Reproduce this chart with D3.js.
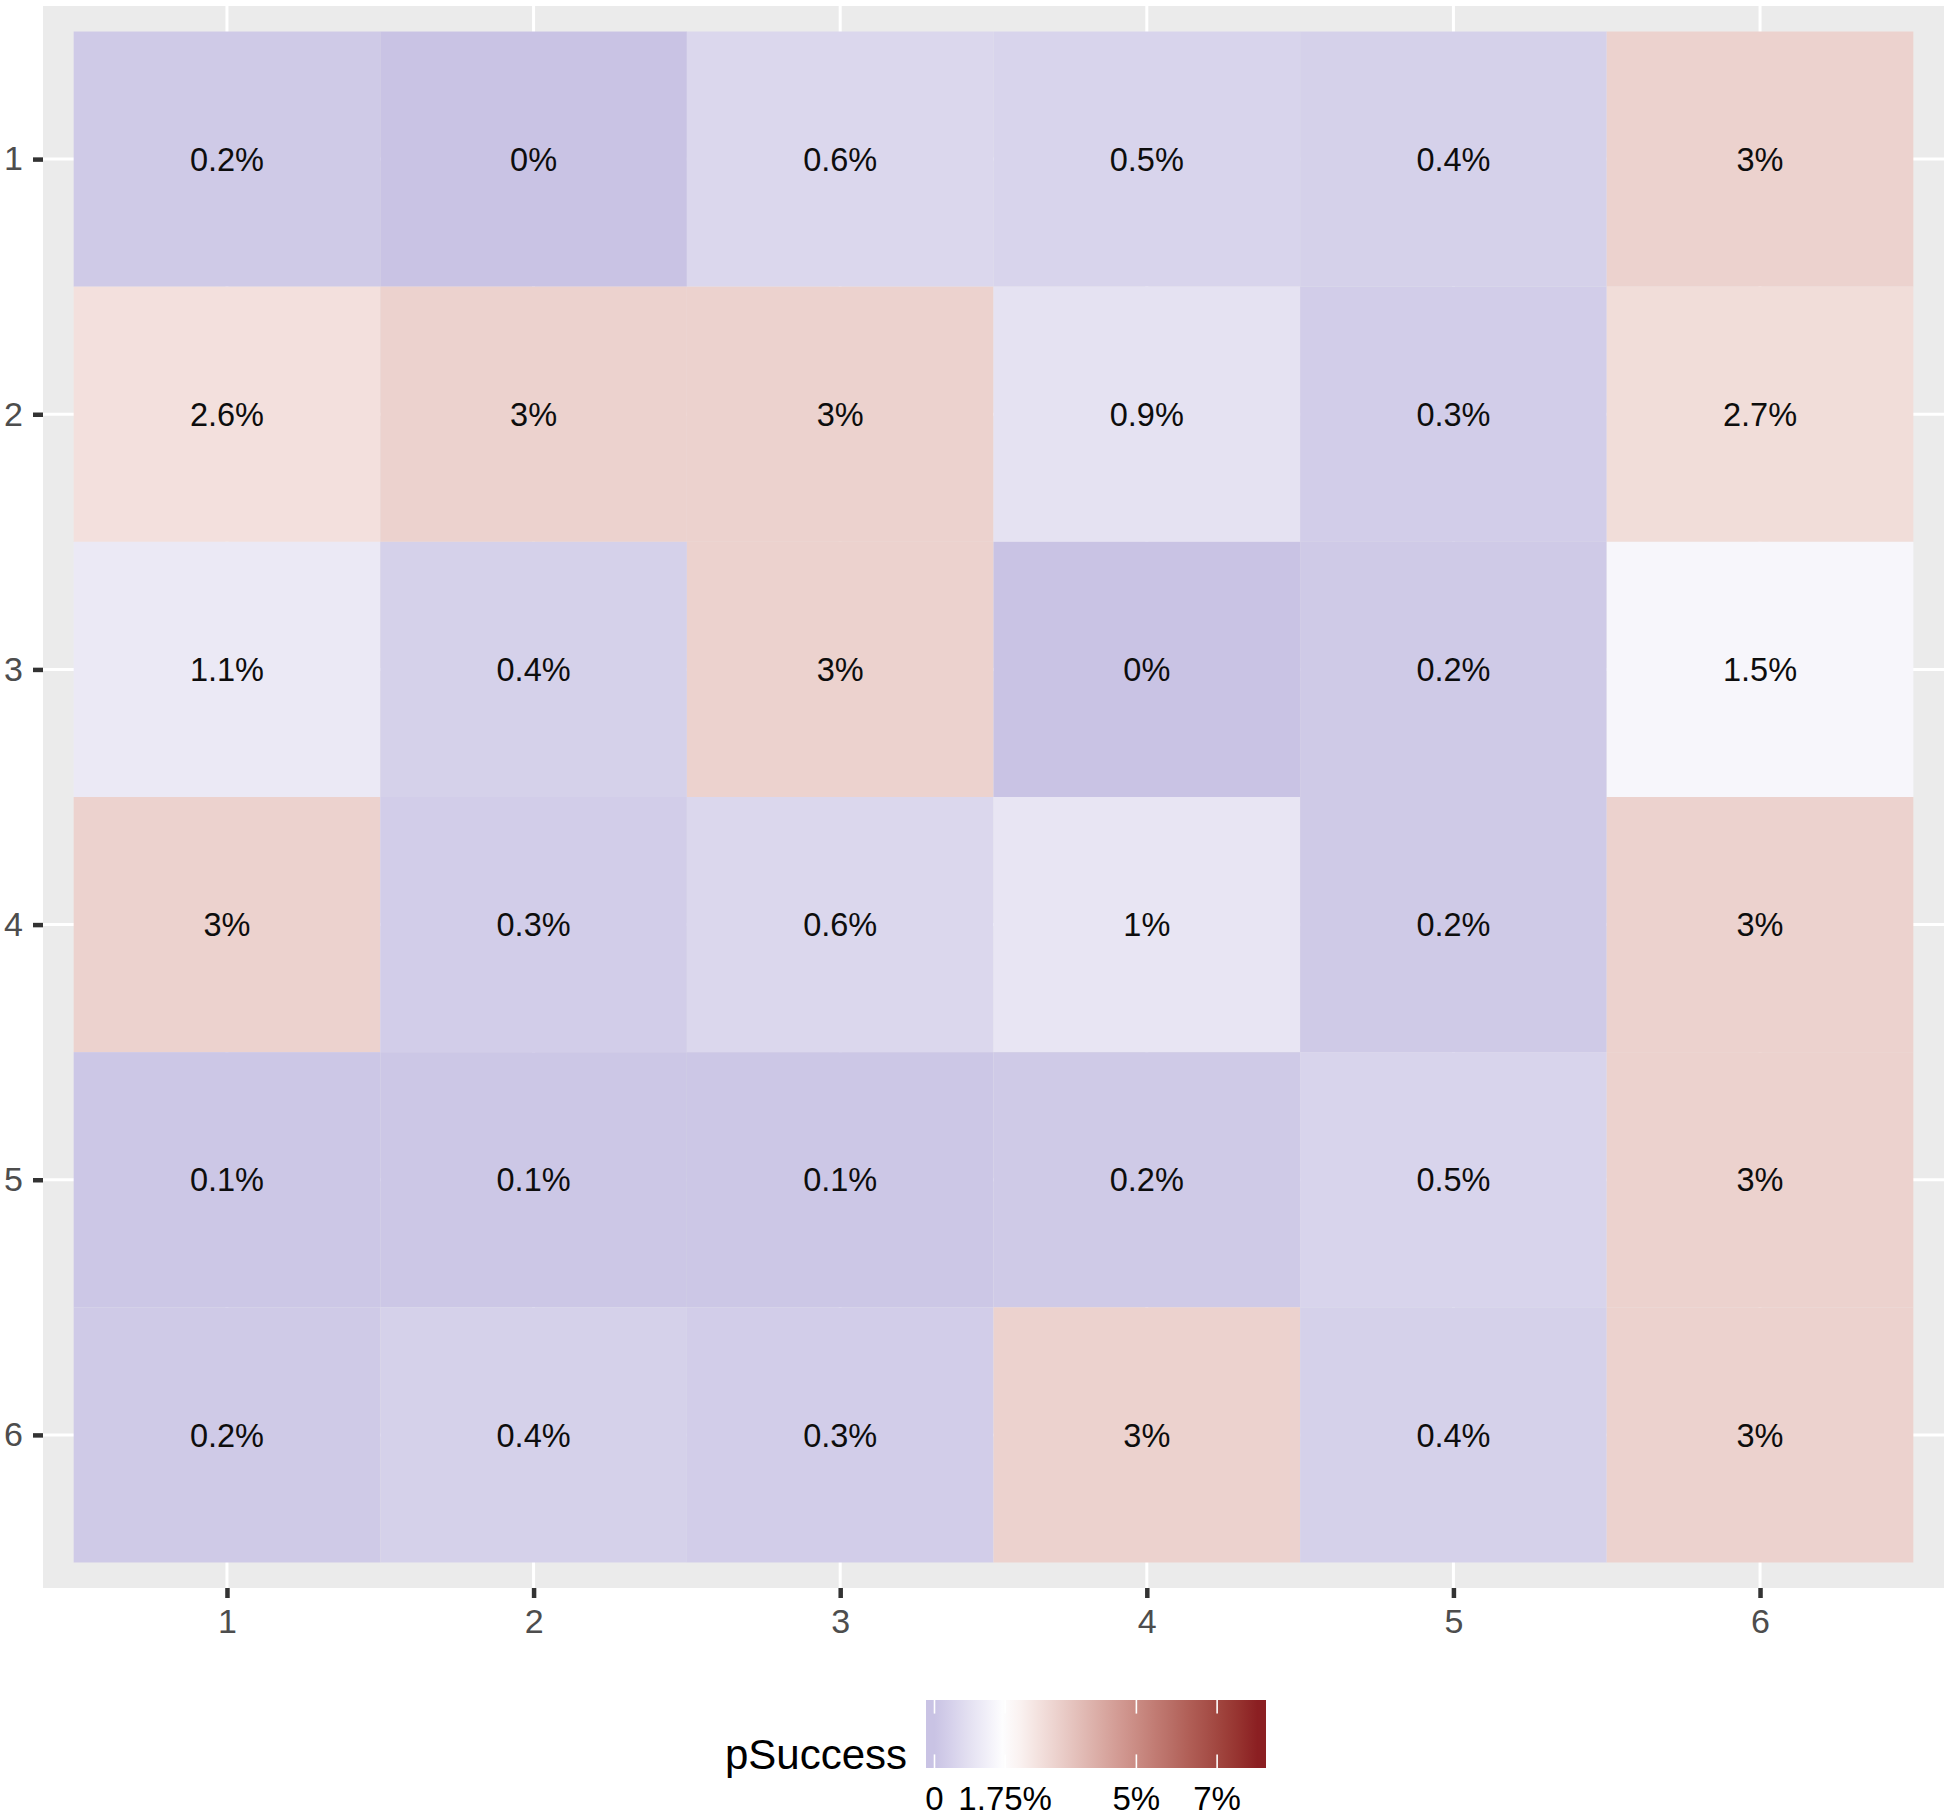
<!DOCTYPE html>
<html>
<head>
<meta charset="utf-8">
<script src="https://cdn.jsdelivr.net/npm/d3@7"></script>
<style>
  html, body { margin: 0; padding: 0; background: #ffffff; }
  svg { display: block; font-family: "Liberation Sans", Arial, Helvetica, sans-serif; }
</style>
</head>
<body>
<svg id="chart" width="1946" height="1816"></svg>
<script>
// ---- data ----
const cols = [1, 2, 3, 4, 5, 6];
const rows = [1, 2, 3, 4, 5, 6];
// pSuccess in %, one array per row (row 1 at top)
const row1 = [0.2, 0, 0.6, 0.5, 0.4, 3];
const row2 = [2.6, 3, 3, 0.9, 0.3, 2.7];
const row3 = [1.1, 0.4, 3, 0, 0.2, 1.5];
const row4 = [3, 0.3, 0.6, 1, 0.2, 3];
const row5 = [0.1, 0.1, 0.1, 0.2, 0.5, 3];
const row6 = [0.2, 0.4, 0.3, 3, 0.4, 3];
const rowValues = [row1, row2, row3, row4, row5, row6];
const legendTicks = [0, 0.0175, 0.05, 0.07];
const legendTickLabels = ["0", "1.75%", "5%", "7%"];
const fillLimits = [0, 0.08];
const fillMid = 0.0175;
const legendTitle = "pSuccess";

const cells = [];
rows.forEach((r, i) => cols.forEach((c, j) => cells.push({ row: r, col: c, v: rowValues[i][j] / 100 })));

// ---- scales ----
const svg = d3.select("#chart");
const x = d3.scaleLinear().domain([0.4, 6.6]).range([43, 1944]);
const y = d3.scaleLinear().domain([0.4, 6.6]).range([6, 1588]);

const lowCol = d3.lab(29, 24, -56).formatHex(), midCol = "#ffffff", highCol = "#8B1F22";
const grad = d3.scaleLinear().domain([0, 0.5, 1]).range([lowCol, midCol, highCol])
  .interpolate(d3.interpolateLab).clamp(true);
const maxDist = Math.max(Math.abs(fillLimits[0] - fillMid), Math.abs(fillLimits[1] - fillMid));
const fill = v => grad((v - fillMid) / maxDist / 2 + 0.5);

// ---- panel ----
svg.append("rect").attr("x", x(0.4)).attr("y", y(0.4))
  .attr("width", x(6.6) - x(0.4)).attr("height", y(6.6) - y(0.4)).attr("fill", "#ebebeb");

const grid = svg.append("g");
grid.selectAll("line.v").data(cols).join("line")
  .attr("x1", d => x(d)).attr("x2", d => x(d)).attr("y1", y(0.4)).attr("y2", y(6.6))
  .attr("stroke", "#fff").attr("stroke-width", 3);
grid.selectAll("line.h").data(rows).join("line")
  .attr("y1", d => y(d)).attr("y2", d => y(d)).attr("x1", x(0.4)).attr("x2", x(6.6))
  .attr("stroke", "#fff").attr("stroke-width", 3);

// ---- tiles ----
svg.append("g").selectAll("rect").data(cells).join("rect")
  .attr("x", d => x(d.col - 0.5)).attr("y", d => y(d.row - 0.5))
  .attr("width", x(1.5) - x(0.5)).attr("height", y(1.5) - y(0.5))
  .attr("fill", d => fill(d.v));

const fmt = v => `${+(v * 100).toFixed(1)}%`;
svg.append("g").selectAll("text").data(cells).join("text")
  .attr("x", d => x(d.col)).attr("y", d => y(d.row))
  .attr("dy", "0.36em").attr("text-anchor", "middle")
  .attr("font-size", 32.5).attr("fill", "#0d0d0d")
  .text(d => fmt(d.v));

// ---- axes ----
const styleAxis = g => {
  g.select(".domain").remove();
  g.selectAll(".tick line").attr("stroke", "#333").attr("stroke-width", 4.5);
  g.selectAll(".tick text").attr("fill", "#4d4d4d").attr("font-size", 34)
    .attr("font-family", "Liberation Sans, Arial, sans-serif");
};
svg.append("g").attr("transform", `translate(0,${y(6.6)})`)
  .call(d3.axisBottom(x).tickValues(cols).tickFormat(d3.format("d")).tickSize(10).tickPadding(11))
  .call(styleAxis);
svg.append("g").attr("transform", `translate(${x(0.4)},0)`)
  .call(d3.axisLeft(y).tickValues(rows).tickFormat(d3.format("d")).tickSize(10).tickPadding(10))
  .call(styleAxis);

// ---- legend ----
const nbin = 20, barX0 = 926, barX1 = 1266, barY0 = 1700, barY1 = 1768;
const binW = (barX1 - barX0) / nbin;
const binVals = d3.range(nbin).map(i => fillLimits[0] + (fillLimits[1] - fillLimits[0]) * i / (nbin - 1));
const defs = svg.append("defs");
const lgGrad = defs.append("linearGradient").attr("id", "legGrad")
  .attr("gradientUnits", "userSpaceOnUse").attr("x1", barX0).attr("x2", barX1).attr("y1", 0).attr("y2", 0);
lgGrad.selectAll("stop").data(binVals).join("stop")
  .attr("offset", (d, i) => ((i + 0.5) / nbin))
  .attr("stop-color", d => fill(d));
const lg = svg.append("g");
lg.append("rect").attr("x", barX0).attr("y", barY0)
  .attr("width", barX1 - barX0).attr("height", barY1 - barY0)
  .attr("fill", "url(#legGrad)");
const lx = d3.scaleLinear().domain(fillLimits).range([barX0 + binW / 2, barX1 - binW / 2]);
const tickLen = (barY1 - barY0) / 5;
lg.selectAll("line.t").data(legendTicks).join("line")
  .attr("x1", d => lx(d)).attr("x2", d => lx(d)).attr("y1", barY0).attr("y2", barY0 + tickLen)
  .attr("stroke", "#fff").attr("stroke-width", 1.6);
lg.selectAll("line.b").data(legendTicks).join("line")
  .attr("x1", d => lx(d)).attr("x2", d => lx(d)).attr("y1", barY1 - tickLen).attr("y2", barY1)
  .attr("stroke", "#fff").attr("stroke-width", 1.6);
lg.selectAll("text.l").data(legendTicks).join("text")
  .attr("x", d => lx(d)).attr("y", 1810).attr("text-anchor", "middle")
  .attr("font-size", 33).attr("fill", "#000")
  .text((d, i) => legendTickLabels[i]);
lg.append("text").attr("x", 907).attr("y", 1769).attr("text-anchor", "end")
  .attr("font-size", 42).attr("fill", "#000").text(legendTitle);
</script>
</body>
</html>
